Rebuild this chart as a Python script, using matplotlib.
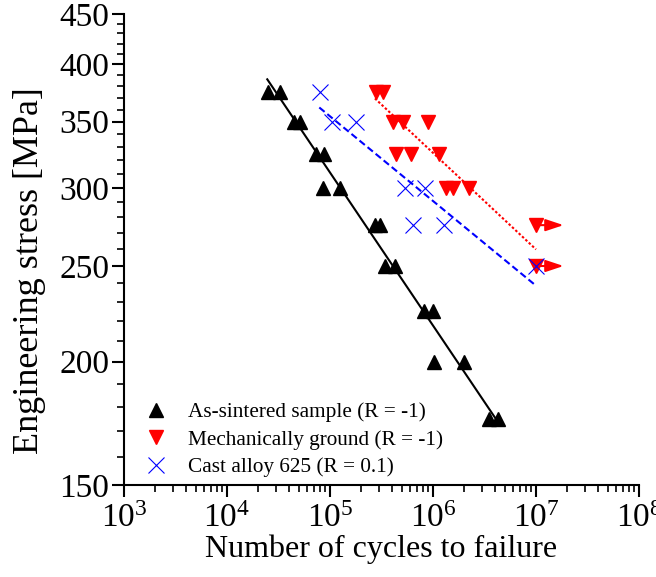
import matplotlib
matplotlib.use('Agg')

import matplotlib.pyplot as plt
import numpy as np

plt.rcParams['font.family'] = ['Liberation Serif', 'DejaVu Serif']
plt.rcParams['mathtext.fontset'] = 'custom'
plt.rcParams['mathtext.rm'] = 'Liberation Serif'

# As-sintered sample (R = -1)
sint_N = [2.5e4, 3.27e4, 4.5e4, 5.1e4, 7.3e4, 8.7e4, 8.5e4, 1.24e5, 2.75e5, 3.05e5,
          3.42e5, 4.3e5, 8.2e5, 1.0e6, 1.02e6, 2.0e6, 3.5e6, 4.3e6]
sint_S = [375, 375, 350, 350, 325, 325, 300, 300, 275, 275,
          250, 250, 225, 225, 200, 200, 175, 175]

# Mechanically ground (R = -1); runout at 1e7
ground_N = [2.8e5, 3.25e5, 4.1e5, 5.15e5, 9.0e5, 4.4e5, 6.1e5, 1.15e6,
            1.34e6, 1.57e6, 2.25e6, 1e7, 1e7]
ground_S = [375, 375, 350, 350, 350, 325, 325, 325, 300, 300, 300, 275, 250]
ground_runout = [False] * 11 + [True, True]

# Cast alloy 625 (R = 0.1)
cast_N = [8.0e4, 1.05e5, 1.79e5, 5.4e5, 8.4e5, 6.4e5, 1.29e6, 1e7]
cast_S = [375, 350, 350, 300, 300, 275, 275, 250]

# Basquin fits S = A * N^b, drawn over [N_lo, N_hi]
fits = {
    'sint':   (1852, -0.155, 2.46e4, 4.15e6),
    'ground': (1257, -0.0978, 2.73e5, 1e7),
    'cast':   (951.9, -0.0858, 7.87e4, 1e7),
}

y_major = [150, 200, 250, 300, 350, 400, 450]

fig = plt.figure(figsize=(6.56, 5.77), dpi=100)
ax = fig.add_axes([124 / 656, 92 / 577, 515 / 656, 471 / 577])
ax.set_xscale('log')
ax.set_yscale('log')


def fit_line(key, **kw):
    A, b, lo, hi = fits[key]
    n = np.logspace(np.log10(lo), np.log10(hi), 50)
    ax.plot(n, A * n ** b, **kw)


fit_line('sint', color='black', lw=1.5, ls='-', zorder=2)
fit_line('ground', color='red', lw=1.5, ls=(0, (1.2, 1.0)), zorder=2)
fit_line('cast', color='blue', lw=1.5, ls=(0, (3.3, 1.7)), zorder=2)

ax.plot(sint_N, sint_S, ls='none', marker='^', ms=10, color='black',
        label='As-sintered sample (R = -1)', zorder=3)
ax.plot(ground_N, ground_S, ls='none', marker='v', ms=10, color='red',
        label='Mechanically ground (R = -1)', zorder=3)
ax.plot(cast_N, cast_S, ls='none', marker='x', ms=11.5, mew=0.8, color='blue',
        label='Cast alloy 625 (R = 0.1)', zorder=4)

# runout arrows
for n, s, r in zip(ground_N, ground_S, ground_runout):
    if r:
        ax.annotate('', xy=(n * 1.85, s), xytext=(n, s),
                    arrowprops=dict(arrowstyle='-|>,head_length=1.08,head_width=0.36',
                                    color='red', lw=1.5, shrinkA=0, shrinkB=0),
                    zorder=3)

ax.set_xlim(1e3, 1e8)
ax.set_ylim(150, 450)
ax.set_yticks(y_major)
ax.set_yticklabels([str(v) for v in y_major])
ax.set_yticks([v for v in range(160, 450, 10) if v not in y_major], minor=True)
ax.yaxis.set_minor_formatter(matplotlib.ticker.NullFormatter())
ax.xaxis.set_major_locator(matplotlib.ticker.LogLocator(base=10, numticks=10))
ax.xaxis.set_minor_locator(matplotlib.ticker.LogLocator(base=10, subs=np.arange(2, 10), numticks=20))

for side in ['top', 'right']:
    ax.spines[side].set_visible(False)
for side in ['left', 'bottom']:
    ax.spines[side].set_linewidth(1.5)

ax.tick_params(which='major', direction='out', length=8.5, width=1.5, labelsize=24)
ax.tick_params(axis='y', which='major', pad=2)
ax.tick_params(axis='x', which='major', pad=5)
ax.tick_params(which='minor', direction='out', length=5, width=1.2)

ax.set_xlabel('Number of cycles to failure', fontsize=23, labelpad=0)
ax.set_ylabel('Engineering stress [MPa]', fontsize=26)
ax.yaxis.set_label_coords(-0.152, 0.455)

ax.legend(loc='upper left', bbox_to_anchor=(0.025, 0.193), frameon=False, fontsize=15.3,
          handlelength=1.0, handletextpad=1.0, labelspacing=0.35, borderaxespad=0)

fig.savefig('out.png', dpi=100)
